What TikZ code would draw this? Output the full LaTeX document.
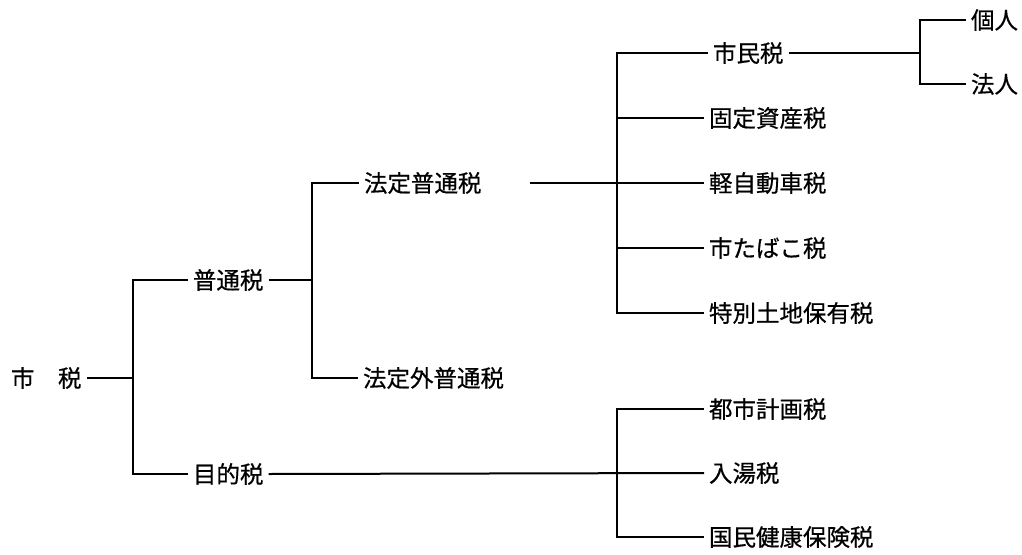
\documentclass[tikz,border=0pt]{standalone}
\usepackage{fontspec}
\newfontfamily\jp[FakeBold=0.6]{Noto Sans CJK JP}
\begin{document}
\begin{tikzpicture}[x=1pt,y=-1pt,line width=2pt,
  lbl/.style={inner xsep=4pt,inner ysep=0pt,anchor=west,font=\jp\fontsize{23.5}{24}\selectfont}]
\useasboundingbox (0,0) rectangle (1022,554);
\node[lbl] (root) at (6,378) {市　税};
\node[lbl] (futsu) at (188,280) {普通税};
\node[lbl] (mokuteki) at (188,474) {目的税};
\node[lbl] (hotei) at (359,183) {法定普通税};
\node[lbl] (hoteigai) at (358,378) {法定外普通税};
\node[lbl] (shimin) at (708,53) {市民税};
\node[lbl] (kotei) at (704,118) {固定資産税};
\node[lbl] (kei) at (704,183) {軽自動車税};
\node[lbl] (tabako) at (704,248) {市たばこ税};
\node[lbl] (tokubetsu) at (704,313) {特別土地保有税};
\node[lbl] (toshi) at (704,409) {都市計画税};
\node[lbl] (nyuto) at (704,473) {入湯税};
\node[lbl] (kokumin) at (704,537) {国民健康保険税};
\node[lbl] (kojin) at (966,20) {個人};
\node[lbl] (hojin) at (966,84) {法人};
\coordinate (j1) at (133,378);
\coordinate (j2) at (312,280);
\coordinate (j3) at (617,183);
\coordinate (j4) at (617,473);
\coordinate (j5) at (920,53);
\coordinate (h0) at (530,183);
\draw (root.east) -- (j1);
\draw (futsu.west) -| (j1) |- (mokuteki.west);
\draw (futsu.east) -- (j2);
\draw (hotei.west) -| (j2) |- (hoteigai.west);
\draw (h0) -- (kei.west);
\draw (shimin.west) -| (j3) |- (tokubetsu.west);
\draw (kotei.west) -- (kotei.west -| j3);
\draw (tabako.west) -- (tabako.west -| j3);
\draw (mokuteki.east) -- (nyuto.west);
\draw (toshi.west) -| (j4) |- (kokumin.west);
\draw (shimin.east) -- (j5);
\draw (kojin.west) -| (j5) |- (hojin.west);
\end{tikzpicture}
\end{document}
